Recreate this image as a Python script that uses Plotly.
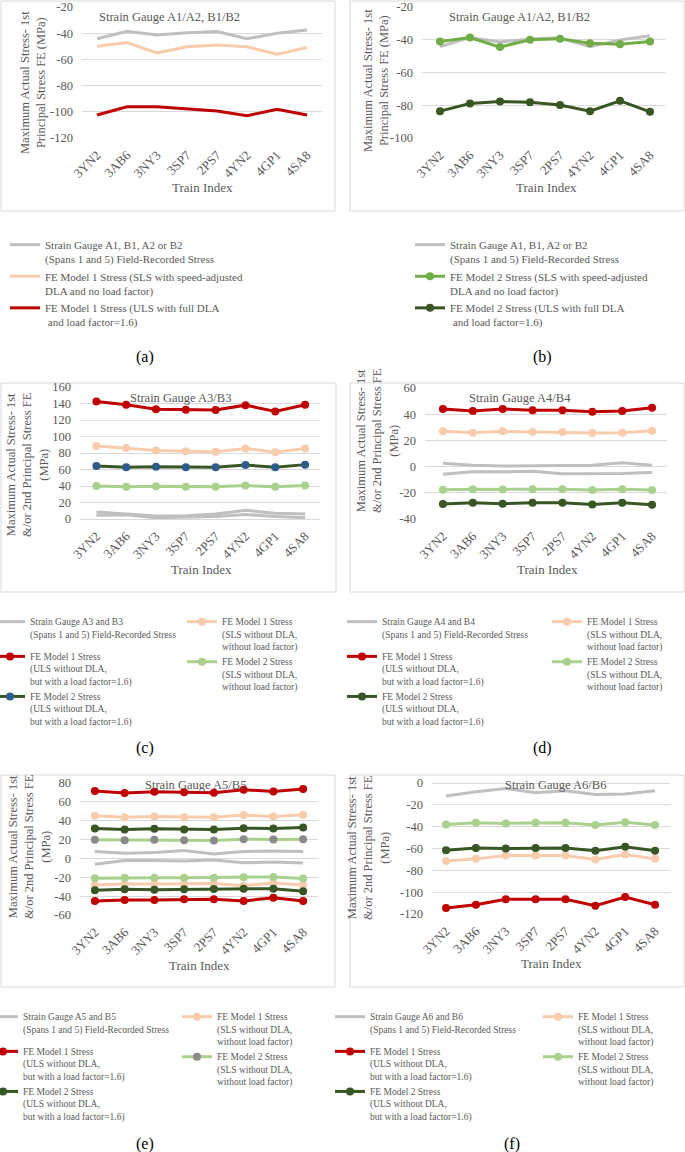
import plotly.graph_objects as go

trains = ["3YN2", "3AB6", "3NY3", "3SP7", "2PS7", "4YN2", "4GP1", "4SA8"]

# (a) Strain Gauge A1/A2, B1/B2 - FE Model 1
a_gauge = [-44.2, -38.6, -41.4, -39.6, -38.8, -44.2, -40.1, -37.6]
a_fe1_sls = [-50.0, -47.2, -55.1, -50.3, -49.0, -50.3, -56.1, -51.0]
a_fe1_uls = [-102.4, -96.1, -96.1, -97.9, -99.4, -103.0, -98.1, -102.4]

# (b) Strain Gauge A1/A2, B1/B2 - FE Model 2
b_gauge = [-44.2, -38.6, -41.4, -39.6, -38.8, -44.2, -40.1, -37.6]
b_fe2_sls = [-41.0, -38.6, -44.5, -40.0, -39.4, -42.1, -42.7, -41.0]
b_fe2_uls = [-83.6, -78.9, -77.7, -78.1, -79.9, -83.6, -77.3, -84.0]

# (c) Strain Gauge A3/B3
c_gauge_1 = [8.5, 6.0, 3.5, 4.0, 6.0, 10.5, 7.0, 6.0]
c_gauge_2 = [4.5, 5.0, 1.5, 2.0, 3.0, 5.5, 3.0, 1.5]
c_fe1_sls = [88.5, 86.0, 83.0, 82.0, 81.5, 85.5, 81.0, 85.5]
c_fe1_uls = [142.4, 138.4, 133.0, 132.4, 132.0, 138.0, 130.4, 138.4]
c_fe2_sls = [40.0, 39.0, 39.6, 39.0, 39.0, 40.6, 39.0, 40.6]
c_fe2_uls = [64.2, 62.6, 63.4, 62.6, 62.6, 65.5, 62.6, 65.9]

# (d) Strain Gauge A4/B4
d_gauge_1 = [2.5, 1.0, 0.5, 0.5, 0.5, 1.0, 3.0, 1.0]
d_gauge_2 = [-5.8, -4.0, -4.0, -3.5, -5.5, -5.3, -5.3, -4.5]
d_fe1_sls = [26.9, 25.9, 26.9, 26.4, 26.4, 25.6, 25.9, 27.4]
d_fe1_uls = [44.0, 42.5, 44.0, 43.0, 43.0, 41.9, 42.5, 45.0]
d_fe2_sls = [-17.7, -17.2, -17.4, -17.2, -17.2, -17.9, -17.2, -17.9]
d_fe2_uls = [-28.6, -27.6, -28.4, -27.6, -27.6, -28.9, -27.6, -29.1]

# (e) Strain Gauge A5/B5 (1st and 2nd principal)
e_gauge_1 = [7.3, 5.5, 6.2, 8.4, 4.8, 7.3, 8.0, 7.3]
e_gauge_2 = [-6.2, -2.3, -2.3, -2.7, -1.6, -4.5, -3.8, -4.8]
e_fe1_sls_1 = [45.2, 43.8, 44.5, 43.8, 43.8, 46.0, 44.5, 46.3]
e_fe1_sls_2 = [-28.2, -27.1, -27.1, -27.1, -26.7, -28.9, -26.0, -28.2]
e_fe1_uls_1 = [71.5, 69.4, 70.8, 70.1, 69.7, 72.9, 71.1, 73.6]
e_fe1_uls_2 = [-45.2, -44.1, -44.1, -43.4, -43.4, -45.2, -41.6, -45.2]
e_fe2_sls_1 = [19.7, 19.4, 19.7, 19.4, 19.0, 20.4, 20.0, 20.4]
e_fe2_sls_2 = [-21.0, -20.4, -20.4, -20.4, -20.4, -20.0, -19.6, -21.4]
e_fe2_uls_1 = [31.8, 30.7, 31.4, 30.7, 30.7, 32.1, 31.8, 32.8]
e_fe2_uls_2 = [-33.8, -32.8, -33.1, -32.8, -32.4, -32.1, -32.1, -34.9]

# (f) Strain Gauge A6/B6
f_gauge = [-12.0, -8.0, -5.0, -9.0, -7.0, -10.5, -10.0, -7.0]
f_fe1_sls = [-71.5, -69.5, -66.5, -66.5, -66.5, -70.0, -65.5, -69.5]
f_fe1_uls = [-114.5, -111.5, -106.5, -106.5, -106.5, -112.5, -104.5, -111.5]
f_fe2_sls = [-38.0, -36.5, -37.0, -36.5, -36.5, -38.5, -36.0, -38.5]
f_fe2_uls = [-61.5, -59.5, -60.0, -59.5, -59.5, -62.0, -58.5, -62.0]

chart_titles = ["Strain Gauge A1/A2, B1/B2", "Strain Gauge A1/A2, B1/B2", "Strain Gauge A3/B3",
                "Strain Gauge A4/B4", "Strain Gauge A5/B5", "Strain Gauge A6/B6"]
captions = ["(a)", "(b)", "(c)", "(d)", "(e)", "(f)"]
ytitle_ab = "Maximum Actual Stress- 1st<br>Principal Stress FE (MPa)"
ytitle_cf = "Maximum Actual Stress- 1st<br>&/or 2nd Principal Stress FE<br>(MPa)"

leg_gauge_a = "Strain Gauge A1, B1, A2 or B2<br>(Spans 1 and 5) Field-Recorded Stress"
leg_fe1_sls_a = "FE Model 1 Stress (SLS with speed-adjusted<br>DLA and no load factor)"
leg_fe1_uls_a = "FE Model 1 Stress (ULS with full DLA<br> and load factor=1.6)"
leg_fe2_sls_b = "FE Model 2 Stress (SLS with speed-adjusted<br>DLA and no load factor)"
leg_fe2_uls_b = "FE Model 2 Stress (ULS with full DLA<br> and load factor=1.6)"
leg_gauge_cf = "Strain Gauge {0} and {1}<br>(Spans 1 and 5) Field-Recorded Stress"
leg_fe1_uls = "FE Model 1 Stress<br>(ULS without DLA,<br>but with a load factor=1.6)"
leg_fe2_uls = "FE Model 2 Stress<br>(ULS without DLA,<br>but with a load factor=1.6)"
leg_fe1_sls = "FE Model 1 Stress<br>(SLS without DLA,<br>without load factor)"
leg_fe2_sls = "FE Model 2 Stress<br>(SLS without DLA,<br>without load factor)"

GRAY = "#bfbfbf"
PEACH = "#f8cbad"
RED = "#c00000"
LGREEN_B = "#70ad47"
LGREEN = "#a9d18e"
DGREEN = "#375623"
BLUE_MK = "#2e5c8a"
GRAYMK = "#8a8a8a"
TXT = "#595959"
FONT = "Liberation Serif"

W, H = 685, 1152


def px(x):
    return x / W


def py(y):
    return 1 - y / H


fig = go.Figure()


def add(panel, y, name, color, legend, group, markers=True, show=True, mcolor=None):
    sfx = "" if panel == 1 else str(panel)
    fig.add_trace(go.Scatter(
        x=trains, y=y, name=name, xaxis="x" + sfx, yaxis="y" + sfx,
        mode="lines+markers" if markers else "lines",
        line=dict(color=color, width=3),
        marker=dict(color=mcolor or color, size=8),
        legend=legend, showlegend=show, legendgroup="p%d%s" % (panel, group),
    ))


# (a)
add(1, a_gauge, leg_gauge_a, GRAY, "legend", "g", markers=False)
add(1, a_fe1_sls, leg_fe1_sls_a, PEACH, "legend", "g", markers=False)
add(1, a_fe1_uls, leg_fe1_uls_a, RED, "legend", "g", markers=False)
# (b)
add(2, b_gauge, leg_gauge_a, GRAY, "legend2", "g", markers=False)
add(2, b_fe2_sls, leg_fe2_sls_b, LGREEN_B, "legend2", "g")
add(2, b_fe2_uls, leg_fe2_uls_b, DGREEN, "legend2", "g")
# (c)
add(3, c_gauge_1, leg_gauge_cf.format("A3", "B3"), GRAY, "legend3", "g", markers=False)
add(3, c_gauge_2, "", GRAY, "legend3", "g", markers=False, show=False)
add(3, c_fe1_sls, leg_fe1_sls, PEACH, "legend4", "s")
add(3, c_fe1_uls, leg_fe1_uls, RED, "legend3", "u")
add(3, c_fe2_sls, leg_fe2_sls, LGREEN, "legend4", "s")
add(3, c_fe2_uls, leg_fe2_uls, DGREEN, "legend3", "u", mcolor=BLUE_MK)
# (d)
add(4, d_gauge_1, leg_gauge_cf.format("A4", "B4"), GRAY, "legend5", "g", markers=False)
add(4, d_gauge_2, "", GRAY, "legend5", "g", markers=False, show=False)
add(4, d_fe1_sls, leg_fe1_sls, PEACH, "legend6", "s")
add(4, d_fe1_uls, leg_fe1_uls, RED, "legend5", "u")
add(4, d_fe2_sls, leg_fe2_sls, LGREEN, "legend6", "s")
add(4, d_fe2_uls, leg_fe2_uls, DGREEN, "legend5", "u")
# (e)
add(5, e_gauge_1, leg_gauge_cf.format("A5", "B5"), GRAY, "legend7", "g", markers=False)
add(5, e_gauge_2, "", GRAY, "legend7", "g", markers=False, show=False)
add(5, e_fe1_sls_1, leg_fe1_sls, PEACH, "legend8", "s")
add(5, e_fe1_sls_2, "", PEACH, "legend8", "s", show=False)
add(5, e_fe1_uls_1, leg_fe1_uls, RED, "legend7", "u")
add(5, e_fe1_uls_2, "", RED, "legend7", "u", show=False)
add(5, e_fe2_sls_1, leg_fe2_sls, LGREEN, "legend8", "s", mcolor=GRAYMK)
add(5, e_fe2_sls_2, "", LGREEN, "legend8", "s", show=False)
add(5, e_fe2_uls_1, leg_fe2_uls, DGREEN, "legend7", "u")
add(5, e_fe2_uls_2, "", DGREEN, "legend7", "u", show=False)
# (f)
add(6, f_gauge, leg_gauge_cf.format("A6", "B6"), GRAY, "legend9", "g", markers=False)
add(6, f_fe1_sls, leg_fe1_sls, PEACH, "legend10", "s")
add(6, f_fe1_uls, leg_fe1_uls, RED, "legend9", "u")
add(6, f_fe2_sls, leg_fe2_sls, LGREEN, "legend10", "s")
add(6, f_fe2_uls, leg_fe2_uls, DGREEN, "legend9", "u")

# layout geometry (pixels) for each panel
panels = [
    dict(xd=(82, 322), yd=(7, 138), yr=[-120, -20], xr=[-0.5, 7.5], box=(1, 1, 335, 211)),
    dict(xd=(422, 665), yd=(7, 138), yr=[-100, -20], xr=[-0.6, 7.5], box=(350, 1, 684, 211)),
    dict(xd=(80, 320), yd=(387, 519), yr=[0, 160], xr=[-0.55, 7.5], box=(1, 383, 336, 592)),
    dict(xd=(425, 667), yd=(388, 519), yr=[-40, 60], xr=[-0.6, 7.5], box=(350, 383, 684, 592)),
    dict(xd=(80, 318), yd=(783, 915), yr=[-60, 80], xr=[-0.5, 7.5], box=(1, 775, 335, 987)),
    dict(xd=(432, 670), yd=(783, 914), yr=[-120, 0], xr=[-0.47, 7.5], box=(350, 775, 684, 987)),
]
title_pos = [(97, 17.5), (447, 17.5), (128, 398), (467, 398), (143, 785), (503, 785)]
ytitle_pos = [(33, 83), (376, 81), (28, 465), (377, 441), (29, 847), (368, 848)]
xtitle_pos = [(202, 188), (546, 188), (201, 569), (547, 569), (199, 965), (551, 963)]
caption_pos = [(145, 357), (542, 357), (145, 748), (542, 748), (145, 1144), (512, 1144)]
legend_pos = [(5, 231), (410, 231), (-10, 609), (182, 609), (342, 609), (547, 609),
              (-17, 1004), (177, 1004), (330, 1004), (538, 1004)]

layout = dict(
    width=W, height=H, margin=dict(l=0, r=0, t=0, b=0, autoexpand=False),
    paper_bgcolor="white", plot_bgcolor="white",
    font=dict(family=FONT, color=TXT, size=12),
)
shapes = []
annotations = []
for i, p in enumerate(panels):
    sfx = "" if i == 0 else str(i + 1)
    tv = list(range(p["yr"][0], p["yr"][1] + 1, 20))
    layout["xaxis" + sfx] = dict(
        domain=[px(p["xd"][0]), px(p["xd"][1])], anchor="y" + sfx,
        type="category", range=p["xr"], tickangle=-45, showgrid=False,
        showline=False, ticks="", zeroline=False, ticklabelstandoff=6,
        tickfont=dict(family=FONT, size=13, color=TXT),
    )
    layout["yaxis" + sfx] = dict(
        domain=[py(p["yd"][1]), py(p["yd"][0])], anchor="x" + sfx,
        range=p["yr"], tickvals=tv, ticktext=[str(v) for v in tv],
        showgrid=True, gridcolor="#d9d9d9", gridwidth=1,
        zeroline=True, zerolinecolor="#d9d9d9", zerolinewidth=1, showline=False,
        ticks="", ticklabelstandoff=8,
        tickfont=dict(family=FONT, size=12.5, color=TXT),
    )
    b = p["box"]
    shapes.append(dict(type="rect", xref="paper", yref="paper",
                       x0=px(b[0]), x1=px(b[2]), y0=py(b[3]), y1=py(b[1]),
                       line=dict(color="#d9d9d9", width=1), layer="below"))
    annotations.append(dict(text=chart_titles[i], x=px(title_pos[i][0]), y=py(title_pos[i][1]),
                            xref="paper", yref="paper", xanchor="left", yanchor="middle",
                            showarrow=False, font=dict(family=FONT, size=12.5, color=TXT)))
    annotations.append(dict(text=ytitle_ab if i < 2 else ytitle_cf,
                            x=px(ytitle_pos[i][0]), y=py(ytitle_pos[i][1]),
                            xref="paper", yref="paper", xanchor="center", yanchor="middle",
                            textangle=-90, showarrow=False,
                            font=dict(family=FONT, size=12.5, color=TXT)))
    annotations.append(dict(text="Train Index", x=px(xtitle_pos[i][0]), y=py(xtitle_pos[i][1]),
                            xref="paper", yref="paper", xanchor="center", yanchor="middle",
                            showarrow=False, font=dict(family=FONT, size=13, color=TXT)))
    annotations.append(dict(text=captions[i], x=px(caption_pos[i][0]), y=py(caption_pos[i][1]),
                            xref="paper", yref="paper", xanchor="center", yanchor="middle",
                            showarrow=False, font=dict(family=FONT, size=16, color="black")))

for j, (lx, ly) in enumerate(legend_pos):
    key = "legend" if j == 0 else "legend" + str(j + 1)
    layout[key] = dict(
        x=px(lx), y=py(ly), xanchor="left", yanchor="top", orientation="v",
        bgcolor="rgba(0,0,0,0)", borderwidth=0, itemwidth=30, valign="top",
        tracegroupgap=7,
        font=dict(family=FONT, size=11 if j < 2 else 9.5, color=TXT),
    )

layout["shapes"] = shapes
layout["annotations"] = annotations
fig.update_layout(**layout)

fig.write_html("out.html", config={"displayModeBar": False},
               post_script="document.body.style.margin='0';")
